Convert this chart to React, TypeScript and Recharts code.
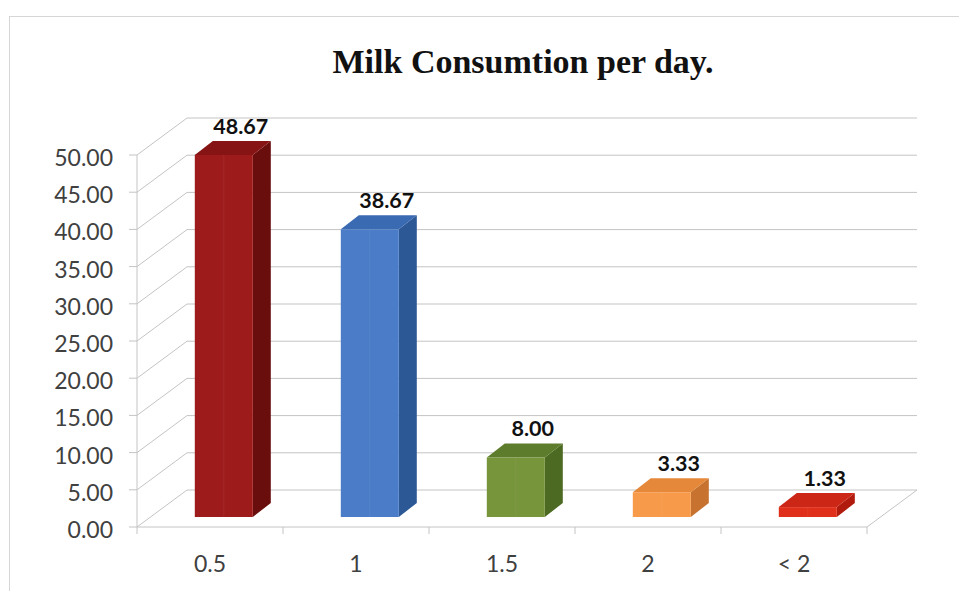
import React from "react";
import { BarChart, Bar, XAxis, YAxis, CartesianGrid, LabelList } from "recharts";

const categories = ["0.5", "1", "1.5", "2", "< 2"];
const values = [48.67, 38.67, 8.0, 3.33, 1.33];
const yTicks = [0, 5, 10, 15, 20, 25, 30, 35, 40, 45, 50];

const frontColors = ["#9e1b1b", "#4a7cc8", "#77953b", "#f79a4a", "#e0301b"];
const sideColors = ["#6a0d0d", "#2c5996", "#4c6a22", "#c7722f", "#b01b0e"];
const topColors = ["#861414", "#3a6ab2", "#5e7d2c", "#e5883a", "#cc2616"];

const W = 959;
const H = 591;

// wall / floor depth
const WALL_DX = 50;
const WALL_DY = -37;
// bar placement inside the floor depth and bar depth
const BAR_OX = 14;
const BAR_OY = -10;
const BAR_DX = 18;
const BAR_DY = -14;

const FONT = "Lato, 'Open Sans', sans-serif";
const GRID = "#c4c4c4";

const data = categories.map((name, i) => ({ name, value: values[i] }));

const Bar3D = (props: any) => {
  const { x, y, width, height, index } = props;
  if (height == null || height <= 0) return null;
  const fx = x + BAR_OX;
  const fy = y + BAR_OY;
  const fb = fy + height;
  return (
    <g>
      <path
        d={`M${fx + width},${fy} L${fx + width + BAR_DX},${fy + BAR_DY} L${fx + width + BAR_DX},${fb + BAR_DY} L${fx + width},${fb} Z`}
        fill={sideColors[index]}
      />
      <path
        d={`M${fx},${fy} L${fx + BAR_DX},${fy + BAR_DY} L${fx + width + BAR_DX},${fy + BAR_DY} L${fx + width},${fy} Z`}
        fill={topColors[index]}
      />
      <rect x={fx} y={fy} width={width} height={height} fill={frontColors[index]} />
      <line x1={fx + width / 2} y1={fy} x2={fx + width / 2} y2={fb} stroke="#ffffff" strokeOpacity={0.06} />
    </g>
  );
};

const BarLabel = (props: any) => {
  const vb = props.viewBox || {};
  const x = props.x ?? vb.x;
  const y = props.y ?? vb.y;
  const width = props.width ?? vb.width;
  if (x == null || y == null) return null;
  return (
    <text
      x={x + BAR_OX + width / 2 + 17}
      y={y + BAR_OY + BAR_DY - 7}
      textAnchor="middle"
      fontFamily={FONT}
      fontWeight="bold"
      fontSize={21.5}
      fill="#111"
    >
      {Number(props.value).toFixed(2)}
    </text>
  );
};

const GridLine = (props: any) => {
  const { x1, y1, x2 } = props;
  const isFloor = Math.abs(y1 - (H - 64)) < 1;
  return (
    <g>
      <line x1={x1} y1={y1} x2={x1 + WALL_DX} y2={y1 + WALL_DY} stroke={GRID} />
      <line x1={x1 + WALL_DX} y1={y1 + WALL_DY} x2={x2 + WALL_DX} y2={y1 + WALL_DY} stroke={GRID} />
      {isFloor && <line x1={x2} y1={y1} x2={x2 + WALL_DX} y2={y1 + WALL_DY} stroke={GRID} />}
    </g>
  );
};

const YTick = (props: any) => {
  const { x, y, payload } = props;
  return (
    <text x={x} y={y + 2} textAnchor="end" dominantBaseline="central" fontFamily={FONT} fontSize={23} fill="#404040">
      {Number(payload.value).toFixed(2)}
    </text>
  );
};

const XTick = (props: any) => {
  const { x, y, payload, index } = props;
  const half = payload.offset || 73;
  return (
    <g>
      <line x1={x - half} y1={y} x2={x - half} y2={y + 7} stroke={GRID} />
      {index === categories.length - 1 && <line x1={x + half} y1={y} x2={x + half} y2={y + 7} stroke={GRID} />}
      <text x={x} y={y + 36} textAnchor="middle" dominantBaseline="central" fontFamily={FONT} fontSize={23} fill="#404040">
        {payload.value}
      </text>
    </g>
  );
};

export default function App() {
  return (
    <div style={{ position: "absolute", left: 0, top: 0, width: W, height: H, overflow: "hidden", background: "#fff" }}>
      <svg width={W} height={H} style={{ position: "absolute", left: 0, top: 0 }}>
        <line x1={9.5} y1={16} x2={9.5} y2={H} stroke="#d6d6d6" />
        <line x1={9} y1={16.5} x2={W} y2={16.5} stroke="#d6d6d6" />
        <text x={523} y={73} textAnchor="middle" fontFamily="'Liberation Serif', 'Times New Roman', serif" fontWeight="bold" fontSize={34} fill="#111">
          Milk Consumtion per day.
        </text>
      </svg>
      <div style={{ position: "absolute", left: 0, top: 0 }}>
        <BarChart width={W} height={H} data={data} margin={{ top: 155, right: 92, left: 57, bottom: 24 }} barCategoryGap="30%">
          <CartesianGrid vertical={false} horizontal={(p: any) => <GridLine key={p.key} {...p} />} />
          <XAxis dataKey="name" interval={0} tickSize={0} tickMargin={0} height={40} axisLine={{ stroke: GRID }} tickLine={false} tick={<XTick />} />
          <YAxis
            domain={[0, 50]}
            ticks={yTicks}
            width={80}
            tickSize={8}
            tickMargin={16}
            axisLine={{ stroke: GRID }}
            tickLine={{ stroke: GRID }}
            tick={<YTick />}
            interval={0}
          />
          <Bar dataKey="value" shape={<Bar3D />} isAnimationActive={false}>
            <LabelList dataKey="value" content={<BarLabel />} />
          </Bar>
        </BarChart>
      </div>
    </div>
  );
}
